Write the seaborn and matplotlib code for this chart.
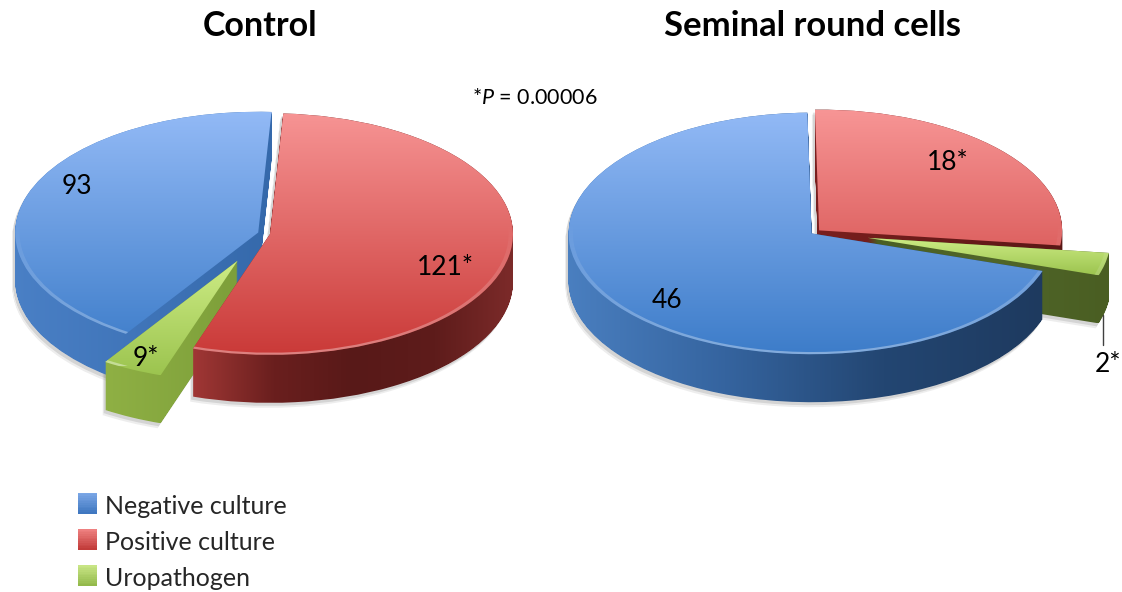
import matplotlib
matplotlib.use("Agg")
import numpy as np
import seaborn as sns
import matplotlib.pyplot as plt
from matplotlib.legend_handler import HandlerBase
from matplotlib.patches import PathPatch, Rectangle
from matplotlib.path import Path
from matplotlib.transforms import Affine2D

# data
categories = ["Negative culture", "Positive culture", "Uropathogen"]
control_values = [93, 121, 9]
seminal_values = [46, 18, 2]
control_labels = ["93", "121*", "9*"]
seminal_labels = ["46", "18*", "2*"]

W, H = 1122, 592
RX = 243.0
SQUASH = 0.497
DEPTH = 48

sns.set_theme(style="white")
plt.rcParams["font.family"] = ["Lato", "DejaVu Sans"]
plt.rcParams["mathtext.fontset"] = "custom"
plt.rcParams["mathtext.it"] = "Lato:italic"
plt.rcParams["mathtext.rm"] = "Lato"

top_cols = [["#93baf6", "#3b7bc8"], ["#f79595", "#c93836"], ["#cdec85", "#9cc44f"]]
legend_cols = [["#7ba7e6", "#3f77c0"], ["#ee8080", "#c23c3a"], ["#c8e585", "#93b94b"]]


def draw_pie(ax, values, cx, cy, start, explode, order, wall_cols):
    ry = RX * SQUASH
    xlim = (-cx / RX, (W - cx) / RX)
    ylim = ((cy - H) / ry, cy / ry)
    layers = []
    for d in range(0, DEPTH + 1):
        wedges, _ = ax.pie(values, explode=explode, startangle=start, counterclock=False,
                           center=(0, -d / ry))
        for w in wedges:
            w.set_visible(False)
        layers.append(wedges)
    rim, _ = ax.pie(values, explode=explode, startangle=start, counterclock=False,
                    wedgeprops=dict(width=0.018))
    for k, i in enumerate(order):
        z = 10 + 5 * k
        wall = Path.make_compound_path(*[lay[i].get_path() for lay in layers])
        # soft shadow under the wall
        for dx, dy, a in [(-3, -5, 0.10), (-2, -3, 0.16)]:
            sh = wall.transformed(Affine2D().translate(dx / RX, dy / ry))
            ax.add_patch(PathPatch(sh, fc="#555555", ec="none", alpha=a, zorder=5))
        v = wall.vertices
        cm = sns.blend_palette(wall_cols[i], n_colors=256, as_cmap=True)
        im = ax.imshow(np.linspace(0, 1, 256)[None, :], cmap=cm, aspect="auto",
                       extent=(v[:, 0].min(), v[:, 0].max(), v[:, 1].min(), v[:, 1].max()),
                       zorder=z)
        im.set_clip_path(wall, transform=ax.transData)
        # top face
        face = layers[0][i].get_path()
        cm = sns.blend_palette(top_cols[i], n_colors=256, as_cmap=True)
        fv = face.vertices
        top = (cy - 110) / ry if i < 2 else fv[:, 1].max()
        bot = (cy - 360) / ry if i < 2 else fv[:, 1].min()
        im = ax.imshow(np.linspace(0, 1, 256)[:, None], cmap=cm, aspect="auto",
                       extent=(fv[:, 0].min(), fv[:, 0].max(), bot, top), zorder=z + 1)
        im.set_clip_path(face, transform=ax.transData)
        # bevel: nothing at the back of the rim, light at the front
        rim[i].set_visible(False)
        rp = rim[i].get_path()
        ramp = np.ones((256, 1, 4))
        ramp[:, 0, 3] = np.clip(np.linspace(-0.35, 0.4, 256), 0, 1)
        im = ax.imshow(ramp, aspect="auto",
                       extent=(rp.vertices[:, 0].min(), rp.vertices[:, 0].max(), -1.1, 1.1),
                       zorder=z + 2)
        im.set_clip_path(rp, transform=ax.transData)
    ax.set_aspect("auto")
    ax.set_xlim(*xlim)
    ax.set_ylim(*ylim)
    ax.axis("off")


class GradientHandler(HandlerBase):
    def __init__(self, cols):
        super().__init__()
        self.cols = cols

    def create_artists(self, legend, orig, xd, yd, width, height, fontsize, trans):
        out = []
        pal = sns.blend_palette(self.cols, n_colors=12)
        for j, c in enumerate(pal):
            y0 = -yd + 1.4 + height * (1 - (j + 1) / 12)
            r = Rectangle((-xd, y0), width, height / 12 + 0.3, fc=c, ec="none", transform=trans)
            out.append(r)
        return out


fig = plt.figure(figsize=(W / 100, H / 100), dpi=100)
ax1 = fig.add_axes([0, 0, 1, 1])
ax2 = fig.add_axes([0, 0, 1, 1])
ax2.patch.set_alpha(0)

draw_pie(ax1, control_values, 264, 233.5, -123.0, [0.025, 0.025, 0.25], [0, 2, 1],
         [["#4a80c6", "#3569ab"],
          ["#a03735", "#6a1f1e", "#581918", "#5e1c1b", "#7d2b2a"],
          ["#8fb044", "#7d9f3a"]])
draw_pie(ax2, seminal_values, 815.5, 232, -18.1, [0.02, 0.02, 0.22], [1, 2, 0],
         [["#4a7fc0", "#35649f", "#234672", "#1e3a5f"],
          ["#7a1f1e", "#5a1716"],
          ["#4a5e22", "#50662a", "#4a5e22"]])


def ptext(x, y, s, **kw):
    kw.setdefault("color", "black")
    kw.setdefault("ha", "center")
    kw.setdefault("va", "center")
    fig.text(x / W, 1 - y / H, s, zorder=50, **kw)


ptext(260, 26, "Control", fontsize=24.5, fontweight="bold")
ptext(812, 26, "Seminal round cells", fontsize=24.9, fontweight="bold")
ptext(535, 98, r"*$\mathit{P}$ = 0.00006", fontsize=15.5)

ptext(77, 186, control_labels[0], fontsize=19)
ptext(445, 268, control_labels[1], fontsize=19)
ptext(146, 358, control_labels[2], fontsize=19)
ptext(667, 301, seminal_labels[0], fontsize=19)
ptext(948, 162, seminal_labels[1], fontsize=19)
ptext(1108, 365, seminal_labels[2], fontsize=19)

# leader line for 2*
fig.add_artist(plt.Line2D([1102.5 / W, 1102.5 / W], [1 - 315 / H, 1 - 345 / H],
                          color="#404040", lw=1))

handles = [Rectangle((0, 0), 1, 1) for _ in categories]
leg = fig.legend(handles, categories, loc="upper left", bbox_to_anchor=(78 / W, 1 - 495 / H),
                 frameon=False, fontsize=18, handlelength=0.76, handleheight=0.92,
                 handletextpad=0.32, labelspacing=0.52, borderpad=0, borderaxespad=0,
                 handler_map={h: GradientHandler(c) for h, c in zip(handles, legend_cols)})

fig.savefig("out.png", dpi=100, facecolor="white")
